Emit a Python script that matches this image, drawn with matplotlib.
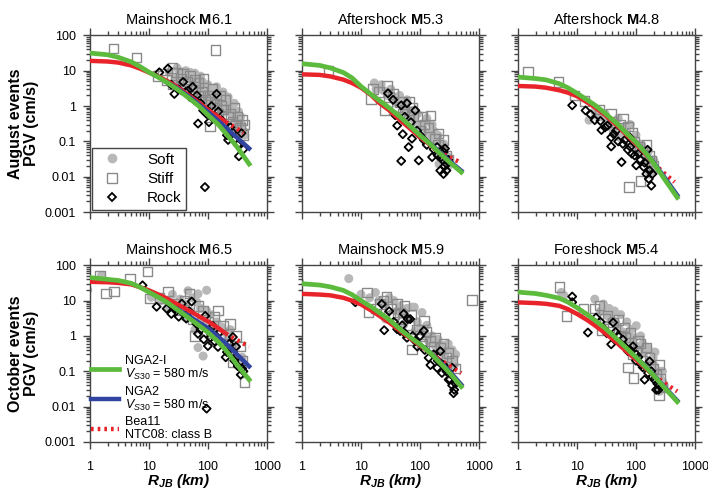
import matplotlib.pyplot as plt
from matplotlib.lines import Line2D

plt.rcParams['font.family'] = 'Liberation Sans'
plt.rcParams['mathtext.fontset'] = 'custom'
plt.rcParams['mathtext.rm'] = 'Liberation Sans'
plt.rcParams['mathtext.it'] = 'Liberation Sans:italic'
plt.rcParams['mathtext.bf'] = 'Liberation Sans:bold'
plt.rcParams['mathtext.bfit'] = 'Liberation Sans:italic:bold'

# distances at which the model curves are tabulated (km)
curve_r = [1, 2, 3, 5, 7, 10, 15, 20, 30, 50, 70, 100, 150, 200, 300, 500]
bea_r = curve_r[:14]

# ---- August, Mainshock M6.1 ----
a61_soft_r = [22, 28, 33, 38, 42, 48, 55, 60, 65, 72, 80, 90, 100, 110, 125, 140, 160, 180, 200, 220, 250, 280, 300, 330, 350, 380,
              30, 35, 45, 50, 58, 68, 75, 85, 95, 105, 115, 130, 150, 170, 190, 210, 230, 260, 290, 310, 340, 360, 400, 420, 45, 70, 90]
a61_soft_v = [9, 6, 8, 5, 10, 7, 4, 8.5, 6, 3, 5, 2.5, 4, 3, 2, 3.5, 1.5, 2.5, 1.2, 1.8, 0.8, 1.2, 0.5, 0.7, 0.35, 0.3,
              12, 9, 6, 9, 6, 4.5, 7, 3.5, 2, 2.5, 1.5, 1.2, 2, 0.9, 1.4, 0.7, 1, 0.5, 0.7, 0.35, 0.25, 0.5, 0.2, 0.15, 3, 2, 1.2]
a61_stiff_r = [2.5, 6.2, 134, 14, 17, 20, 25, 30, 35, 40, 45, 50, 55, 62, 70, 80, 90, 100, 108, 120, 140, 160, 180, 200, 240, 280, 320, 380,
               25, 38, 60, 75, 85, 110, 130, 150, 170, 220, 260, 300, 350, 400, 420]
a61_stiff_v = [42, 24, 38, 7, 8, 5.5, 4, 9, 6, 3, 5, 7, 2, 3.5, 4.5, 2.5, 1.5, 2, 0.26, 3, 1.2, 2, 0.8, 1.5, 0.6, 0.9, 0.5, 0.4,
               12, 8, 5.5, 2, 6, 1.3, 0.9, 0.6, 1, 0.5, 0.35, 0.3, 0.25, 0.15, 0.3]
a61_rock_r = [15, 21, 24, 27, 32, 38, 42, 46, 50, 55, 60, 65, 68, 75, 83, 89, 95, 104, 115, 125, 140, 150, 170, 190, 210, 220, 240, 260, 290, 320, 335, 370, 400]
a61_rock_v = [9, 11.5, 4, 2.2, 3, 4.8, 2.5, 2.7, 1.8, 3.5, 1.45, 2, 0.32, 1.2, 0.75, 0.0051, 0.6, 0.35, 1, 0.5, 2.2, 0.7, 0.4, 0.3, 0.15, 0.11, 0.25, 0.18, 0.12, 0.08, 0.038, 0.17, 0.06]
a61_nga2i = [31.6, 28.2, 24, 17.8, 13.2, 9.1, 6.3, 4.7, 3.0, 1.58, 1.0, 0.56, 0.30, 0.17, 0.076, 0.023]
a61_nga2 = [4.7, 3.2, 1.74, 1.12, 0.68, 0.38, 0.25, 0.135, 0.063]
a61_bea = [19, 18.2, 17, 14.1, 11.5, 8.9, 6.6, 5.2, 3.5, 1.9, 1.26, 0.79, 0.5, 0.355]
a61_bea_ext_r = [200, 300, 400]
a61_bea_ext = [0.355, 0.24, 0.17]

# ---- August, Aftershock M5.3 ----
a53_soft_r = [16.8, 24, 36, 53, 78, 116, 170, 250, 300, 210, 70, 140,
              18, 22, 28, 32, 40, 45, 55, 60, 65, 80, 90, 100, 120, 130, 150, 160, 180, 200, 230, 260, 280, 300, 320, 220]
a53_soft_v = [4.5, 2.75, 1.8, 1.2, 0.75, 0.32, 0.2, 0.085, 0.036, 0.023, 0.49, 0.13,
              3, 4, 2, 3, 1.2, 2, 0.8, 1.5, 0.5, 0.4, 0.6, 0.3, 0.2, 0.45, 0.15, 0.3, 0.1, 0.15, 0.06, 0.05, 0.03, 0.02, 0.025, 0.04]
a53_stiff_r = [2.8, 14.8, 27.5, 25, 41, 67, 150, 205, 250, 20, 35, 55, 90, 120, 180,
               16, 30, 45, 50, 65, 75, 100, 110, 140, 200, 230, 280, 300]
a53_stiff_v = [10, 1.6, 3.8, 0.76, 0.93, 1.3, 0.55, 0.17, 0.11, 2.5, 2.2, 0.8, 0.5, 0.3, 0.12,
               3, 1.8, 1.3, 0.6, 0.4, 0.9, 0.2, 0.5, 0.25, 0.08, 0.05, 0.04, 0.03]
a53_rock_r = [28.6, 38, 41, 51, 48, 64, 73, 95, 160, 220, 250, 285, 265, 60, 48, 83, 89, 116, 195, 228,
              35, 55, 70, 100, 130, 170, 200, 240, 260, 280, 300, 250]
a53_rock_v = [2.3, 0.55, 0.28, 0.16, 0.028, 0.069, 0.12, 0.029, 0.036, 0.015, 0.012, 0.023, 0.063, 1.2, 1.05, 0.75, 0.2, 0.11, 0.069, 0.036,
              1.5, 0.5, 0.35, 0.15, 0.08, 0.06, 0.04, 0.03, 0.02, 0.015, 0.03, 0.05]
a53_nga2i = [15.8, 14.1, 12, 8.9, 6.3, 3.6, 2.1, 1.48, 0.89, 0.44, 0.26, 0.148, 0.083, 0.052, 0.028, 0.0135]
a53_nga2 = [0.44, 0.26, 0.151, 0.085, 0.055, 0.030, 0.0148]
a53_bea = [7.9, 7.6, 6.9, 5.6, 4.5, 3.3, 2.0, 1.26, 0.76, 0.355, 0.22, 0.132, 0.079, 0.052]
a53_bea_ext_r = [200, 300, 500]
a53_bea_ext = [0.052, 0.037, 0.025]

# ---- August, Aftershock M4.8 ----
a48_soft_r = [16, 21, 31, 41, 53, 78, 116, 140, 170, 195, 64, 101,
              20, 25, 35, 45, 60, 70, 90, 110, 125, 150, 160, 180, 200, 215, 30, 50, 80, 100]
a48_soft_v = [0.4, 0.55, 0.4, 0.2, 0.13, 0.13, 0.085, 0.04, 0.012, 0.019, 0.25, 0.055,
              0.7, 0.5, 0.3, 0.35, 0.15, 0.2, 0.1, 0.06, 0.08, 0.03, 0.05, 0.02, 0.03, 0.015, 0.6, 0.45, 0.3, 0.15]
a48_stiff_r = [1.48, 4.9, 9.1, 13.5, 24, 60, 73, 116, 76, 120, 182, 38,
               40, 55, 85, 95, 130, 150, 170, 200]
a48_stiff_v = [9.1, 4.8, 2, 1.4, 0.81, 0.44, 0.26, 0.069, 0.0051, 0.0075, 0.028, 0.6,
               0.35, 0.3, 0.18, 0.1, 0.05, 0.08, 0.04, 0.02]
a48_rock_r = [8.3, 14, 17, 25, 26, 38, 38, 57, 60, 73, 95, 157, 101, 150, 182, 165, 46, 78, 135, 33,
              20, 30, 42, 50, 65, 80, 85, 110, 120, 140, 170, 190]
a48_rock_v = [1.05, 0.75, 0.58, 0.38, 0.21, 0.13, 0.072, 0.026, 0.085, 0.058, 0.04, 0.058, 0.021, 0.012, 0.0056, 0.0087, 0.2, 0.13, 0.019, 0.28,
              0.4, 0.25, 0.16, 0.1, 0.11, 0.07, 0.045, 0.045, 0.03, 0.025, 0.015, 0.012]
a48_nga2i = [6.6, 6.0, 5.5, 4.3, 3.3, 2.3, 1.48, 1.07, 0.63, 0.295, 0.166, 0.095, 0.045, 0.024, 0.0089, 0.0026]
a48_nga2 = [0.095, 0.046, 0.025, 0.010, 0.003]
a48_bea = [3.7, 3.55, 3.3, 2.8, 2.4, 1.9, 1.26, 0.93, 0.56, 0.263, 0.151, 0.085, 0.042, 0.024]
a48_bea_ext_r = [200, 300, 450]
a48_bea_ext = [0.024, 0.0126, 0.0071]

# ---- October, Mainshock M6.5 ----
o65_soft_r = [0.92, 1.58, 33.5, 46, 68, 95, 41, 60, 68, 83, 130, 195, 250, 325, 21, 16, 95, 11, 27.5,
              40, 50, 55, 75, 80, 90, 110, 120, 140, 150, 170, 180, 220, 240, 270, 300, 350, 380, 25, 30, 65]
o65_soft_v = [20, 52, 11, 19, 15.5, 19.6, 3.3, 1.5, 0.47, 0.27, 1.9, 1.26, 0.47, 0.19, 6.5, 10, 5.2, 12.5, 5.8,
              8, 5, 12, 6, 3, 2, 4, 1.2, 2.5, 0.8, 1.8, 0.6, 0.9, 1.5, 0.3, 0.5, 0.15, 0.25, 15, 8, 9]
o65_stiff_r = [1.48, 1.87, 2.55, 4.8, 9.5, 10.4, 21, 49, 82, 148, 235, 60, 420, 265, 122, 36,
               15, 27, 40, 55, 70, 100, 110, 130, 160, 180, 200, 300, 350, 380]
o65_stiff_v = [52, 16, 18, 42, 67, 11.5, 18, 16, 5.2, 5.2, 2.2, 1, 0.05, 0.18, 0.81, 5.2,
               12, 8, 10, 3, 7, 2.5, 1.2, 3.5, 1, 2, 0.6, 1, 0.5, 0.2]
o65_rock_r = [7.8, 13.5, 20, 24, 36, 43, 53, 64, 68, 100, 148, 210, 265, 350, 400, 95, 122, 160, 90, 265, 320,
              28, 32, 48, 75, 85, 110, 130, 180, 200, 230, 280, 300, 360, 380]
o65_rock_v = [27, 6.7, 5.9, 4.2, 8.2, 3.1, 9.4, 2.2, 1.15, 0.52, 0.49, 0.35, 0.93, 0.18, 0.1, 0.0088, 1.9, 1.3, 3.7, 0.35, 0.14,
              6, 3.5, 5, 1.5, 0.8, 0.9, 0.7, 0.6, 0.25, 0.6, 0.2, 0.5, 0.08, 0.12]
o65_nga2i = [44.7, 39.8, 37.2, 30.9, 24, 17.4, 12, 9.1, 5.6, 3.0, 2.0, 1.26, 0.68, 0.40, 0.166, 0.058]
o65_nga2 = [5.8, 3.5, 2.4, 1.66, 0.95, 0.63, 0.32, 0.138]
o65_bea = [34, 33, 31.6, 28.8, 24, 19.5, 14.5, 11.5, 7.9, 5.0, 3.6, 2.6, 1.66, 1.17]
o65_bea_ext_r = [200, 300, 500]
o65_bea_ext = [1.17, 0.79, 0.5]

# ---- October, Mainshock M5.9 ----
o59_soft_r = [0.9, 6.2, 17.5, 73, 108, 182, 285, 370, 36, 53, 140, 250, 325, 26, 83,
              10, 14, 20, 25, 30, 40, 45, 50, 60, 65, 80, 90, 100, 120, 130, 160, 170, 200, 220, 240, 260, 300, 330, 350, 380, 400]
o59_soft_v = [35, 42, 17, 6.5, 4.6, 0.52, 0.42, 0.24, 10, 2.1, 0.72, 0.19, 0.08, 3, 1.38,
              15, 12, 10, 8, 12, 5, 7, 4, 6, 3, 6.5, 2.5, 1.6, 1.2, 2, 1, 0.6, 0.8, 0.4, 0.55, 0.3, 0.6, 0.2, 0.4, 0.15, 0.3]
o59_stiff_r = [12.6, 13.5, 27, 41, 29, 73, 89, 150, 220, 760, 46, 21, 116, 305,
               18, 24, 32, 36, 50, 55, 65, 70, 100, 110, 130, 170, 180, 250, 280, 350, 400]
o59_stiff_v = [17, 4.6, 12.5, 8, 3.7, 0.42, 1.55, 0.72, 0.47, 10.5, 4.6, 8, 2.7, 0.33,
               6, 10, 6, 4, 3, 7, 2, 4, 1, 0.6, 1.3, 0.5, 0.9, 0.6, 0.25, 0.2, 0.12]
o59_rock_r = [8, 22.5, 24.7, 53, 41, 60, 83, 116, 140, 150, 220, 235, 350, 370, 305, 195, 68, 46,
              30, 36, 50, 55, 62, 75, 90, 100, 120, 170, 200, 250, 280, 320, 350, 380, 400]
o59_rock_v = [9, 8, 1.45, 4.2, 1.55, 0.89, 0.72, 1.4, 0.24, 0.15, 0.37, 0.09, 0.126, 0.024, 0.058, 0.125, 3, 1.38,
              5, 2.5, 2, 1.2, 3, 1, 0.5, 1.0, 0.4, 0.3, 0.2, 0.15, 0.1, 0.06, 0.04, 0.03, 0.045]
o59_nga2i = [30, 27.5, 24.5, 19.5, 14.8, 10, 6.6, 4.7, 2.9, 1.38, 0.89, 0.58, 0.33, 0.2, 0.1, 0.037]
o59_nga2 = [0.58, 0.34, 0.21, 0.11, 0.042]
o59_bea = [15.5, 14.8, 14.1, 12, 10, 7.8, 5.2, 3.8, 2.4, 1.26, 0.83, 0.54, 0.33, 0.23]
o59_bea_ext_r = [200, 300, 500]
o59_bea_ext = [0.23, 0.15, 0.089]

# ---- October, Foreshock M5.4 ----
o54_soft_r = [5.4, 20, 33, 50, 101, 68, 130, 195, 250, 250, 43, 83, 285,
              6, 25, 28, 35, 38, 45, 55, 60, 70, 75, 85, 95, 110, 120, 140, 160, 170, 200, 210, 230, 260, 280, 300]
o54_soft_v = [17, 11, 3.7, 1.74, 1.95, 0.89, 0.58, 0.24, 0.1, 0.027, 5.1, 1.55, 0.05,
              14, 5, 8, 6, 3, 2.5, 4, 1.3, 2.5, 1.1, 0.7, 0.9, 0.5, 1, 0.35, 0.45, 0.2, 0.15, 0.35, 0.08, 0.06, 0.1, 0.04]
o54_stiff_r = [5.1, 6.6, 13, 24, 26, 41, 64, 73, 91, 108, 150, 250, 245, 89, 33,
               20, 30, 35, 50, 55, 65, 80, 100, 120, 130, 170, 200, 220, 260, 280]
o54_stiff_v = [24, 3.7, 5.8, 7.2, 1.4, 2.4, 1.74, 0.13, 0.064, 0.72, 0.47, 0.155, 0.021, 0.3, 3.7,
               6, 3, 1.8, 2.8, 1, 0.9, 1.2, 0.35, 0.6, 0.2, 0.25, 0.12, 0.08, 0.06, 0.035]
o54_rock_r = [8.3, 8.3, 15.3, 21, 29, 38, 41, 60, 73, 89, 123, 140, 182, 205, 220, 170, 101, 50,
              25, 32, 45, 55, 65, 80, 100, 110, 130, 160, 190, 230, 240, 250]
o54_rock_v = [13, 9, 1.25, 3.3, 1.55, 0.58, 2.4, 0.79, 0.37, 0.51, 0.155, 0.058, 0.1, 0.058, 0.03, 0.19, 0.3, 1.0,
              2.5, 1.2, 1.3, 0.6, 0.5, 0.4, 0.2, 0.25, 0.13, 0.09, 0.07, 0.045, 0.03, 0.04]
o54_nga2i = [17.4, 15.8, 14.1, 11.7, 9.1, 6.3, 4.0, 2.8, 1.66, 0.76, 0.44, 0.25, 0.126, 0.076, 0.035, 0.0138]
o54_nga2 = [0.25, 0.128, 0.078, 0.037, 0.0148]
o54_bea = [8.9, 8.5, 8.1, 7.1, 5.75, 4.2, 2.8, 2.0, 1.2, 0.6, 0.355, 0.214, 0.117, 0.076]
o54_bea_ext_r = [200, 300, 500]
o54_bea_ext = [0.076, 0.047, 0.027]

titles = ['Mainshock $\\mathbf{M}$6.1', 'Aftershock $\\mathbf{M}$5.3', 'Aftershock $\\mathbf{M}$4.8',
          'Mainshock $\\mathbf{M}$6.5', 'Mainshock $\\mathbf{M}$5.9', 'Foreshock $\\mathbf{M}$5.4']
row_labels = ['August events\nPGV (cm/s)', 'October events\nPGV (cm/s)']

panels = [
    (a61_soft_r, a61_soft_v, a61_stiff_r, a61_stiff_v, a61_rock_r, a61_rock_v, a61_nga2i, a61_nga2, a61_bea, a61_bea_ext_r, a61_bea_ext),
    (a53_soft_r, a53_soft_v, a53_stiff_r, a53_stiff_v, a53_rock_r, a53_rock_v, a53_nga2i, a53_nga2, a53_bea, a53_bea_ext_r, a53_bea_ext),
    (a48_soft_r, a48_soft_v, a48_stiff_r, a48_stiff_v, a48_rock_r, a48_rock_v, a48_nga2i, a48_nga2, a48_bea, a48_bea_ext_r, a48_bea_ext),
    (o65_soft_r, o65_soft_v, o65_stiff_r, o65_stiff_v, o65_rock_r, o65_rock_v, o65_nga2i, o65_nga2, o65_bea, o65_bea_ext_r, o65_bea_ext),
    (o59_soft_r, o59_soft_v, o59_stiff_r, o59_stiff_v, o59_rock_r, o59_rock_v, o59_nga2i, o59_nga2, o59_bea, o59_bea_ext_r, o59_bea_ext),
    (o54_soft_r, o54_soft_v, o54_stiff_r, o54_stiff_v, o54_rock_r, o54_rock_v, o54_nga2i, o54_nga2, o54_bea, o54_bea_ext_r, o54_bea_ext),
]

GREEN = '#5cba3c'
BLUE = '#3145a0'
RED = '#e8242a'
SOFT = '#b8b8b8'
STIFF = '#8a8a8a'
AXIS = '#444444'
DOTS = (0, (0.6, 0.9))

fig = plt.figure(figsize=(7.08, 4.91), dpi=100)
lefts = [0.127, 0.4266, 0.7316]
bottoms = [0.568, 0.0998]
w, h = 0.25, 0.36

for i, p in enumerate(panels):
    soft_r, soft_v, stiff_r, stiff_v, rock_r, rock_v, nga2i, nga2, bea, bea_ext_r, bea_ext = p
    row, col = divmod(i, 3)
    ax = fig.add_axes([lefts[col], bottoms[row], w, h])
    ax.set_xscale('log')
    ax.set_yscale('log')
    ax.set_xlim(1, 1000)
    ax.set_ylim(0.001, 100)

    ax.scatter(soft_r, soft_v, s=42, color=SOFT, edgecolors='none', zorder=2)
    ax.scatter(stiff_r, stiff_v, s=46, marker='s', facecolors='none', edgecolors=STIFF, linewidths=1.0, zorder=3)
    ax.scatter(rock_r, rock_v, s=17, marker='D', facecolors='none', edgecolors='black', linewidths=1.3, zorder=4)

    ax.plot(bea_r, bea, color=RED, lw=3.2, solid_capstyle='butt', zorder=5)
    ax.plot(bea_ext_r, bea_ext, color=RED, lw=3.2, ls=DOTS, zorder=5)
    ax.plot(curve_r[-len(nga2):], nga2, color=BLUE, lw=3.2, zorder=6)
    ax.plot(curve_r, nga2i, color=GREEN, lw=3.4, zorder=7)

    ax.tick_params(which='both', direction='out', top=True, right=True, width=1.0, color=AXIS)
    ax.tick_params(which='major', length=5, labelsize=9)
    ax.tick_params(which='minor', length=3)
    ax.tick_params(axis='x', which='major', pad=9)
    ax.tick_params(axis='y', which='major', pad=5)
    for s in ax.spines.values():
        s.set_linewidth(1.0)
        s.set_color(AXIS)
    ax.set_xticks([1, 10, 100, 1000])
    ax.set_xticklabels(['1', '10', '100', '1000'])
    ax.set_yticks([0.001, 0.01, 0.1, 1, 10, 100])
    ax.set_yticklabels(['0.001', '0.01', '0.1', '1', '10', '100'])
    if row == 0:
        ax.tick_params(labelbottom=False)
    else:
        ax.set_xlabel('$\\mathbfit{R}_{\\mathbfit{JB}}$ (km)', fontsize=11, fontweight='bold', style='italic', labelpad=-1)
    if col != 0:
        ax.tick_params(labelleft=False)
    else:
        ax.set_ylabel(row_labels[row], fontsize=11.5, fontweight='bold', linespacing=1.05)
        ax.yaxis.set_label_coords(-0.29, 0.5)
    ax.set_title(titles[i], fontsize=10.5, pad=8)

    if i == 0:
        handles = [Line2D([0], [0], ls='none', marker='o', ms=7, color=SOFT, mec='none'),
                   Line2D([0], [0], ls='none', marker='s', ms=7, mfc='none', mec=STIFF),
                   Line2D([0], [0], ls='none', marker='D', ms=4.5, mfc='none', mec='black', mew=1.3)]
        leg = ax.legend(handles, ['Soft', 'Stiff', 'Rock'], loc='lower left', fontsize=11,
                        frameon=True, fancybox=False, edgecolor=AXIS, borderaxespad=0.15,
                        handletextpad=1.3, labelspacing=0.35, borderpad=0.3, framealpha=1)
        leg.get_frame().set_linewidth(1.0)
    if i == 3:
        handles = [Line2D([0], [0], color=GREEN, lw=3.4),
                   Line2D([0], [0], color=BLUE, lw=3.2),
                   Line2D([0], [0], color=RED, lw=3.2, ls=DOTS)]
        labels = ['NGA2-I\n$V_{S30}$ = 580 m/s', 'NGA2\n$V_{S30}$ = 580 m/s', 'Bea11\nNTC08: class B']
        leg = ax.legend(handles, labels, loc='lower left', bbox_to_anchor=(0.0, 0.0), fontsize=9,
                        frameon=False, borderaxespad=0.0, handlelength=2.2, handletextpad=0.5,
                        labelspacing=0.25, borderpad=0.1)
        for t in leg.get_texts():
            t.set_linespacing(1.05)

fig.savefig('out.png', dpi=100)
